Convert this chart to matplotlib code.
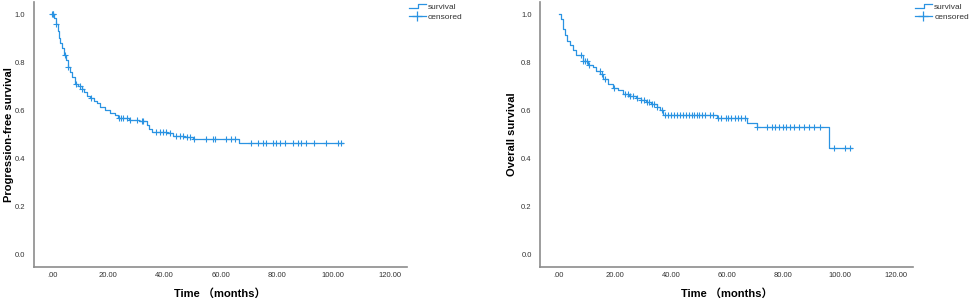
import numpy as np
import matplotlib.pyplot as plt
from matplotlib.lines import Line2D
from matplotlib.legend_handler import HandlerBase

# progression-free survival: step times (months) and survival after each step
pfs_t = [0, 0.8, 1.4, 2.0, 2.5, 2.8, 3.5, 4.3, 5.0, 5.7, 6.5, 7.2, 8.2, 9.3, 10.5,
         11.5, 12.3, 13.5, 14.8, 15.9, 17.0, 18.8, 20.5, 22.3, 23.5, 27.5, 31.0,
         33.6, 34.5, 35.4, 40.7, 43.0, 47.0, 50.0, 66.6, 103.3]
pfs_s = [1.0, 0.985, 0.96, 0.93, 0.90, 0.88, 0.86, 0.83, 0.81, 0.78, 0.76, 0.74, 0.71,
         0.70, 0.69, 0.675, 0.66, 0.65, 0.64, 0.63, 0.615, 0.60, 0.59, 0.58, 0.567,
         0.56, 0.555, 0.54, 0.525, 0.51, 0.506, 0.495, 0.49, 0.483, 0.465, 0.465]
pfs_cens = [0.1, 0.2, 0.3, 1.4, 4.5, 5.7, 8.5, 10.0, 10.6, 14.0, 23.8, 24.4, 25.2, 26.6,
            27.7, 30.1, 31.9, 32.3, 37.0, 38.2, 39.4, 40.5, 42.0, 44.0, 45.5, 46.5,
            48.0, 49.0, 50.3, 54.8, 57.2, 57.8, 62.0, 63.7, 64.9, 70.8, 73.2, 74.9,
            76.1, 78.5, 79.7, 80.9, 83.0, 85.6, 87.4, 88.6, 90.4, 93.3, 97.4, 101.5,
            102.7]

# overall survival
os_t = [0, 0.8, 1.5, 2.2, 3.0, 4.0, 5.0, 6.3, 8.7, 10.5, 12.3, 13.5, 14.7, 15.8, 17.5,
        19.4, 21.0, 23.0, 25.0, 27.7, 29.5, 31.3, 33.0, 34.9, 36.0, 37.3, 56.3, 67.0,
        70.6, 96.2, 104.5]
os_s = [1.0, 0.98, 0.94, 0.915, 0.89, 0.87, 0.85, 0.83, 0.805, 0.79, 0.78, 0.765, 0.75,
        0.73, 0.71, 0.694, 0.685, 0.67, 0.66, 0.652, 0.645, 0.635, 0.625, 0.615, 0.60,
        0.583, 0.569, 0.55, 0.531, 0.444, 0.444]
os_cens = [8.0, 8.8, 9.5, 10.2, 11.0, 14.6, 15.5, 16.4, 19.6, 23.6, 24.8, 25.6, 26.5,
           27.8, 29.5, 30.5, 31.5, 32.3, 33.2, 34.0, 35.0, 36.7, 37.9, 39.0, 40.2,
           41.2, 42.0, 43.2, 44.3, 45.5, 46.5, 47.5, 48.3, 49.2, 50.0, 51.0, 52.0,
           53.9, 55.0, 56.8, 58.0, 59.5, 60.5, 61.5, 62.8, 64.0, 65.0, 66.4, 70.6,
           74.2, 76.0, 77.2, 78.5, 80.0, 81.0, 82.5, 84.0, 85.5, 87.5, 89.0, 91.0,
           93.2, 97.9, 102.1, 103.9]

xticks = [0, 20, 40, 60, 80, 100, 120]
yticks = [0.0, 0.2, 0.4, 0.6, 0.8, 1.0]

col = '#2a93e2'
fam = ['Liberation Sans', 'Noto Sans CJK SC', 'DejaVu Sans']
plt.rcParams['font.family'] = fam


class StepHandler(HandlerBase):
    def create_artists(self, legend, orig, xd, yd, w, h, fontsize, trans):
        xs = [xd, xd + w * 0.55, xd + w * 0.55, xd + w]
        ys = [yd + h * 0.2, yd + h * 0.2, yd + h * 0.9, yd + h * 0.9]
        ln = Line2D(xs, ys, color=col, lw=0.9, transform=trans)
        return [ln]


def km_panel(ax, t, s, cens, ylab, ylab_x):
    ax.step(t, s, where='post', color=col, lw=0.9)
    idx = np.searchsorted(t, cens, side='right') - 1
    cy = np.array(s)[idx]
    ax.plot(cens, cy, ls='none', marker='+', ms=5, mew=0.8, color=col)
    ax.set_xlim(-6.6, 126.2)
    ax.set_ylim(-0.05, 1.05)
    ax.set_xticks(xticks)
    ax.set_xticklabels(['.00' if v == 0 else '%.2f' % v for v in xticks])
    ax.set_yticks(yticks)
    ax.set_yticklabels(['%.1f' % v for v in yticks])
    ax.tick_params(length=0, labelsize=5.5, colors='#333333')
    ax.tick_params(axis='y', pad=6)
    ax.tick_params(axis='x', pad=3.5)
    for sp in ['top', 'right']:
        ax.spines[sp].set_visible(False)
    for sp in ['left', 'bottom']:
        ax.spines[sp].set_color('#8c8c8c')
        ax.spines[sp].set_linewidth(1.2)
    ax.set_xlabel('Time （months）', fontsize=8, fontweight='bold', va='center')
    ax.xaxis.set_label_coords(0.5, -0.102)
    ax.set_ylabel(ylab, fontsize=8, fontweight='bold', va='center')
    ax.yaxis.set_label_coords(ylab_x, 0.5)
    h1 = Line2D([], [], color=col, lw=0.9)
    h2 = Line2D([], [], color=col, lw=0.9, marker='+', ms=7, mew=0.9)
    leg = ax.legend([h1, h2], ['survival', 'censored'], loc='upper left',
                    bbox_to_anchor=(0.993, 1.01), frameon=False, fontsize=6,
                    handlelength=2.1, handletextpad=0.25, labelspacing=0.2,
                    borderpad=0, handler_map={h1: StepHandler()})
    for tx in leg.get_texts():
        tx.set_color('#333333')


fig = plt.figure(figsize=(9.69, 3.01), dpi=100)
ax1 = fig.add_axes([0.0346, 0.113, 0.3854, 0.880])
ax2 = fig.add_axes([0.5573, 0.113, 0.3849, 0.880])
km_panel(ax1, pfs_t, pfs_s, pfs_cens, 'Progression-free survival', -0.066)
km_panel(ax2, os_t, os_s, os_cens, 'Overall survival', -0.076)
fig.savefig('out.png', dpi=100)
